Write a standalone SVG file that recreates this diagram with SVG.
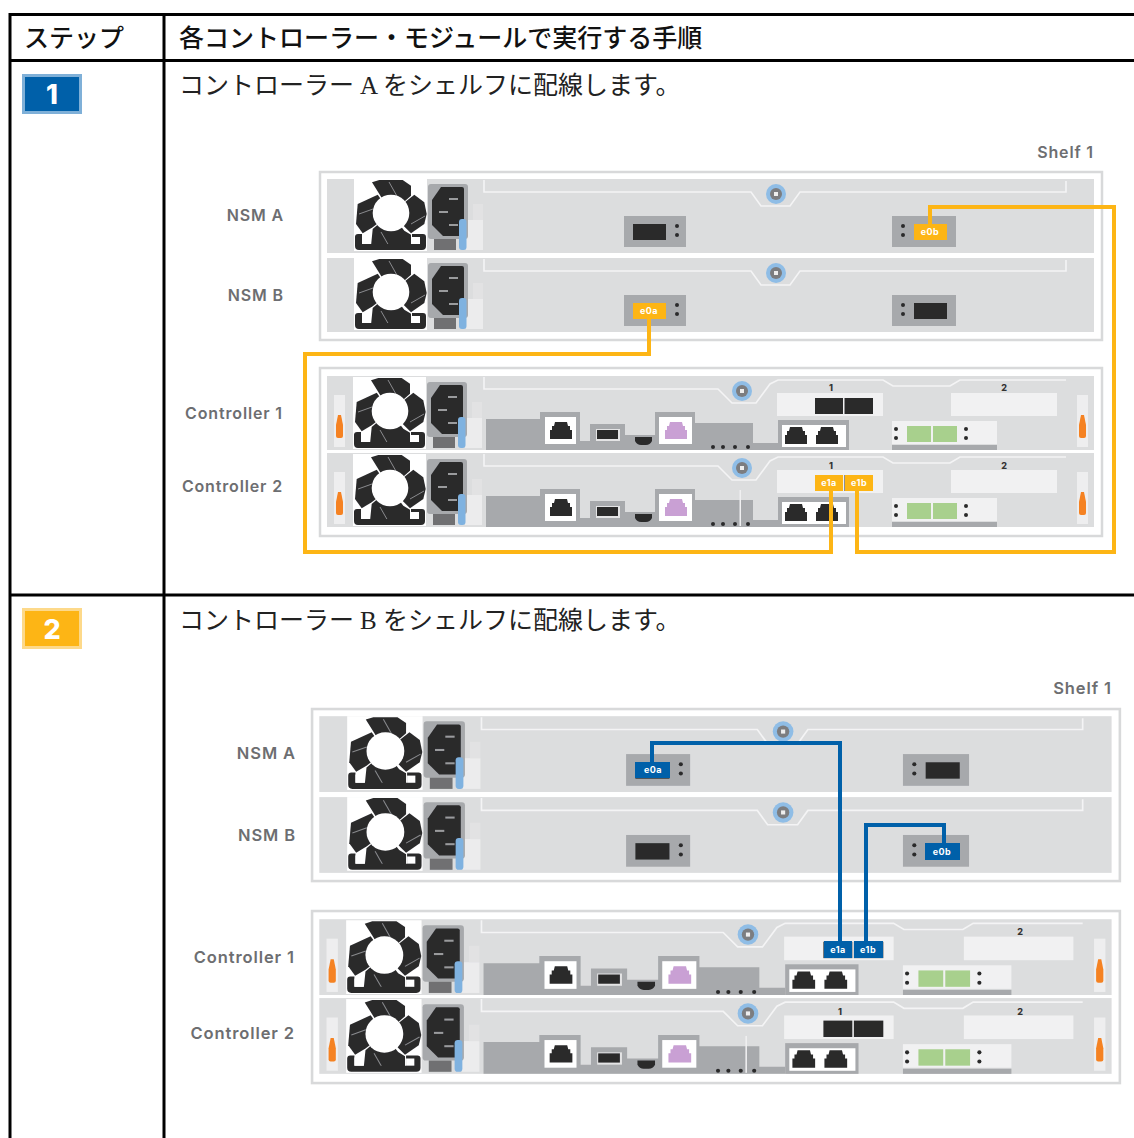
<svg xmlns="http://www.w3.org/2000/svg" xmlns:xlink="http://www.w3.org/1999/xlink" width="1134" height="1138" viewBox="0 0 1134 1138">
<style>
.rule{stroke:#000;stroke-width:3;fill:none}
.hd{font-family:"Liberation Serif","Noto Sans CJK JP",serif;font-size:25px;font-weight:500;fill:#111}
.tx{font-family:"Liberation Serif","Noto Sans CJK JP",serif;font-size:25px;font-weight:400;fill:#222}
.lb{font-family:Inter,"Noto Sans",sans-serif;font-size:16px;font-weight:600;fill:#6d6e71;text-anchor:end;letter-spacing:.85px}
.lb2{font-size:16.5px;letter-spacing:.9px}
.num{font-family:Inter,"Noto Sans",sans-serif;font-size:9px;font-weight:800;fill:#333;text-anchor:middle}
.pt{font-family:Inter,"Noto Sans",sans-serif;font-size:9px;font-weight:700;fill:#fff;text-anchor:middle;letter-spacing:.5px}
.bn{font-family:Inter,"Noto Sans",sans-serif;font-size:27px;font-weight:800;fill:#fff;text-anchor:middle}
.mod{fill:#dcddde}
.frame{fill:#fff;stroke:#d8d9da;stroke-width:2.5}
.strip{fill:none;stroke:#f4f4f5;stroke-width:1.6}
.g1{fill:#a7a9ac}
.k{fill:#2a2a2c}
.lt{fill:#f1f1f2}
.or{fill:#f58220}
.cable{fill:none;stroke-width:4;stroke-linejoin:miter}
.yc{stroke:#fdb515}
.bc{stroke:#0060a9}
.yf{fill:#fdb515}
.bf{fill:#0060a9}
.soft{filter:url(#sf)}
</style>
<defs>
<filter id="sf" x="-2%" y="-2%" width="104%" height="104%"><feGaussianBlur stdDeviation="0.45"/></filter>
<path id="rj" d="M-6 -9H6L7 -5H9V-1H11V8H-11V-1H-9V-5H-7Z"/>
<circle id="dot" r="2" class="k"/>
<g id="latch">
<rect x="-5.500" y="395" width="11" height="52" fill="#eeeeef"/>
<path d="M-3.500 436V425L-1.500 415H1.500L3.500 425V436Q3.500 438 1.500 438H-1.500Q-3.500 438 -3.500 436Z" class="or"/>
</g>
<g id="psu">
<rect x="353" y="377" width="73" height="72" fill="#fff"/>
<g class="k">
<polygon points="371,380.300 378.300,378 401.700,378 410,383.700 410,393.700 390,411.300 378.300,392"/>
<polygon points="356.700,402 376.700,392.700 390,411.300 371.700,425.300 361.700,431.300 355,422"/>
<polygon points="413.300,392.700 423.300,400.300 425.700,412 423.300,422 410,431.300 390,411.300"/>
<polygon points="371.700,427 390,411.300 403.300,428.700 410,432.700 410,444 370,444"/>
</g>
<g stroke="#8a8b8d" stroke-width="1">
<line x1="388" y1="380" x2="397" y2="396"/>
<line x1="358" y1="412" x2="372" y2="407"/>
<line x1="410" y1="422" x2="424" y2="414"/>
<line x1="380" y1="430" x2="388" y2="444"/>
</g>
<circle cx="390" cy="411" r="18.300" fill="#fff"/>
<path d="M354 435Q354 432 357 432H361V442H411V432H422Q425 432 425 435V444Q425 448 421 448H358Q354 448 354 444Z" class="k"/>
<rect x="361" y="434" width="9" height="8" fill="#fff"/>
<rect x="411" y="435" width="8" height="7" fill="#fff"/>
<rect x="465" y="418" width="17" height="30" fill="#ececed"/>
<rect x="472" y="402" width="10" height="16" fill="#e2e2e3"/>
<rect x="427" y="382" width="40" height="55" rx="3" class="g1"/>
<path d="M440 385H461Q463 385 463 387V432Q463 434 461 434H442L431 423V398Z" class="k"/>
<rect x="448" y="396" width="9" height="2" fill="#9a9b9d"/>
<rect x="438" y="409" width="9" height="2" fill="#9a9b9d"/>
<rect x="448" y="422" width="9" height="2" fill="#9a9b9d"/>
<rect x="433" y="437" width="22" height="11" fill="#6f7072"/>
<rect x="458" y="417" width="7.500" height="31" rx="3" fill="#7fb2e0"/>
</g>
<g id="nsm">
<rect x="327" y="179" width="767" height="74" class="mod"/>
<use href="#psu" xlink:href="#psu" y="-198" x="1"/>
<path class="strip" d="M484 180V192H751L761 206H790L800 192H1066V181"/>
<circle cx="776" cy="194" r="10" fill="#8fbde6"/>
<circle cx="776" cy="194" r="6" fill="#7c7d80"/>
<rect x="774" y="192" width="4" height="4" fill="#eee"/>
<rect x="624" y="216" width="62" height="31" class="g1"/>
<rect x="633" y="224" width="33" height="16" class="k"/>
<use href="#dot" xlink:href="#dot" x="677" y="226"/><use href="#dot" xlink:href="#dot" x="677" y="235"/>
<rect x="892" y="216" width="64" height="31" class="g1"/>
<rect x="914" y="224" width="33" height="16" class="k"/>
<use href="#dot" xlink:href="#dot" x="903" y="226"/><use href="#dot" xlink:href="#dot" x="903" y="235"/>
</g>
<g id="ctrl">
<rect x="327" y="376" width="767" height="74" class="mod"/>
<use href="#latch" xlink:href="#latch" x="339.500"/>
<use href="#latch" xlink:href="#latch" x="1082.500"/>
<use href="#psu" xlink:href="#psu"/>
<path class="strip" d="M484 377V389H718L732 403H756L770 384L778 380H883L893 386H950L960 380H1066"/>
<circle cx="742" cy="391" r="10" fill="#8fbde6"/>
<circle cx="742" cy="391" r="6" fill="#7c7d80"/>
<rect x="740" y="389" width="4" height="4" fill="#eee"/>
<path class="g1" d="M486 419H540V412H580V441H590V424H625V435H655V412H695V423H753V443H778V450H486Z"/>
<rect x="545" y="417" width="31" height="27" fill="#fff"/>
<use href="#rj" xlink:href="#rj" x="561" y="431" class="k"/>
<rect x="596" y="429" width="24" height="12" fill="#e4e4e5"/>
<rect x="597" y="430" width="21" height="9" class="k"/>
<path d="M635 437H652V441Q650 445 646 445H641Q637 445 635 441Z" class="k"/>
<rect x="659" y="417" width="33" height="27" fill="#fff"/>
<use href="#rj" xlink:href="#rj" x="676" y="431" fill="#c9a0d4"/>
<use href="#dot" xlink:href="#dot" x="713" y="447"/><use href="#dot" xlink:href="#dot" x="723" y="447"/><use href="#dot" xlink:href="#dot" x="735" y="447"/><use href="#dot" xlink:href="#dot" x="748" y="447"/>
<rect x="777" y="393" width="106" height="23" class="lt"/>
<rect x="815" y="398" width="28" height="16" class="k"/>
<rect x="844.500" y="398" width="28.500" height="16" class="k"/>
<rect x="778" y="420" width="71" height="30" class="g1"/>
<rect x="782" y="425" width="64" height="22" fill="#fff"/>
<use href="#rj" xlink:href="#rj" x="796" y="436" class="k"/>
<use href="#rj" xlink:href="#rj" x="827" y="436" class="k"/>
<rect x="951" y="393" width="106" height="23" class="lt"/>
<rect x="892" y="421" width="105" height="23" class="lt"/>
<rect x="892" y="445" width="105" height="5" class="g1"/>
<rect x="907" y="426" width="24" height="16" fill="#a8d08d"/>
<rect x="933" y="426" width="24" height="16" fill="#a8d08d"/>
<use href="#dot" xlink:href="#dot" x="896" y="429"/><use href="#dot" xlink:href="#dot" x="896" y="438"/>
<use href="#dot" xlink:href="#dot" x="966" y="429"/><use href="#dot" xlink:href="#dot" x="966" y="438"/>
</g>
</defs>
<rect width="1134" height="1138" fill="#fff"/>

<g id="table">
<path class="rule" d="M10 1138V14.500H1134M164 14.500V1138M10 60.500H1134M10 595H1134"/>
<text class="hd" x="24" y="47">ステップ</text>
<text class="hd" x="179" y="47">各コントローラー・モジュールで実行する手順</text>
</g>

<g id="step-1-badge">
<rect x="22" y="74" width="60" height="40" fill="#7fb0d8"/>
<rect x="25" y="77" width="54" height="34" class="bf"/>
<text class="bn" x="52" y="104">1</text>
</g>
<text id="step-1-text" class="tx" x="179" y="94">コントローラー<tspan x="360">A</tspan><tspan x="383">をシェルフに配線します。</tspan></text>

<g id="shelf-1a" class="soft">
<rect class="frame" x="320" y="172" width="782" height="168"/>
<g id="p1-nsm-a"><use href="#nsm" xlink:href="#nsm"/></g>
<g id="p1-nsm-b"><use href="#nsm" xlink:href="#nsm" y="79"/></g>
</g>
<g id="shelf-1a-ports">
<rect x="914" y="224" width="33" height="16" class="yf"/><text class="pt" x="930" y="235">e0b</text>
<rect x="633" y="303" width="33" height="16" class="yf"/><text class="pt" x="649" y="314">e0a</text>
</g>
<g id="shelf-1b" class="soft">
<rect class="frame" x="320" y="368" width="782" height="168"/>
<g id="p1-ctrl-1"><use href="#ctrl" xlink:href="#ctrl"/></g>
<g id="p1-ctrl-2"><use href="#ctrl" xlink:href="#ctrl" y="77"/></g>
<rect x="739.500" y="490" width="1.500" height="36" fill="#f0f0f1"/>
</g>
<g id="shelf-1b-ports">
<text class="num" x="831" y="391">1</text><text class="num" x="1004" y="391">2</text>
<text class="num" x="831" y="469">1</text><text class="num" x="1004" y="469">2</text>
<rect x="815" y="475" width="28" height="16" class="yf"/><text class="pt" x="829" y="486">e1a</text>
<rect x="845" y="475" width="28" height="16" class="yf"/><text class="pt" x="859" y="486">e1b</text>
</g>
<g id="labels-1">
<text class="lb" x="284" y="221">NSM A</text>
<text class="lb" x="284" y="301">NSM B</text>
<text class="lb" x="283" y="419">Controller 1</text>
<text class="lb" x="283" y="492">Controller 2</text>
<text class="lb" x="1094" y="158">Shelf 1</text>
</g>

<g id="step-2-badge">
<rect x="22" y="608" width="60" height="41" fill="#fdd98a"/>
<rect x="25" y="611" width="54" height="35" class="yf"/>
<text class="bn" x="52" y="639">2</text>
</g>
<text id="step-2-text" class="tx" x="179" y="629">コントローラー<tspan x="360">B</tspan><tspan x="383">をシェルフに配線します。</tspan></text>

<g id="shelf-2a" class="soft" transform="matrix(1.033 0 0 1.024 -18.5 532.9)">
<rect class="frame" x="320" y="172" width="782" height="168"/>
<g id="p2-nsm-a"><use href="#nsm" xlink:href="#nsm"/></g>
<g id="p2-nsm-b"><use href="#nsm" xlink:href="#nsm" y="79"/></g>
</g>
<g id="shelf-2a-ports">
<rect x="635" y="762" width="35" height="16" class="bf"/><text class="pt" x="653" y="773">e0a</text>
<rect x="925" y="843" width="35" height="17" class="bf"/><text class="pt" x="942" y="855">e0b</text>
</g>
<g id="shelf-2b" class="soft" transform="matrix(1.033 0 0 1.024 -18.5 534.2)">
<rect class="frame" x="320" y="368" width="782" height="168"/>
<g id="p2-ctrl-1"><use href="#ctrl" xlink:href="#ctrl"/></g>
<g id="p2-ctrl-2"><use href="#ctrl" xlink:href="#ctrl" y="77"/></g>
<rect x="739.500" y="490" width="1.500" height="36" fill="#f0f0f1"/>
</g>
<g id="shelf-2b-ports">
<text class="num" x="1020" y="935">2</text>
<text class="num" x="840" y="1015">1</text><text class="num" x="1020" y="1015">2</text>
<rect x="824" y="941" width="28" height="17" class="bf"/><text class="pt" x="838" y="953">e1a</text>
<rect x="854" y="941" width="29" height="17" class="bf"/><text class="pt" x="868" y="953">e1b</text>
</g>
<g id="labels-2">
<text class="lb lb2" x="296" y="759">NSM A</text>
<text class="lb lb2" x="296" y="841">NSM B</text>
<text class="lb lb2" x="295" y="963">Controller 1</text>
<text class="lb lb2" x="295" y="1039">Controller 2</text>
<text class="lb lb2" x="1112" y="694">Shelf 1</text>
</g>

<g id="connectors">
<path class="cable yc" d="M930 226V207H1114V552H857V490"/>
<path class="cable yc" d="M649 318V354H305V552H831V490"/>
<path class="cable bc" d="M652 763V743H840V943"/>
<path class="cable bc" d="M944 845V825H866V943"/>
</g>
</svg>
